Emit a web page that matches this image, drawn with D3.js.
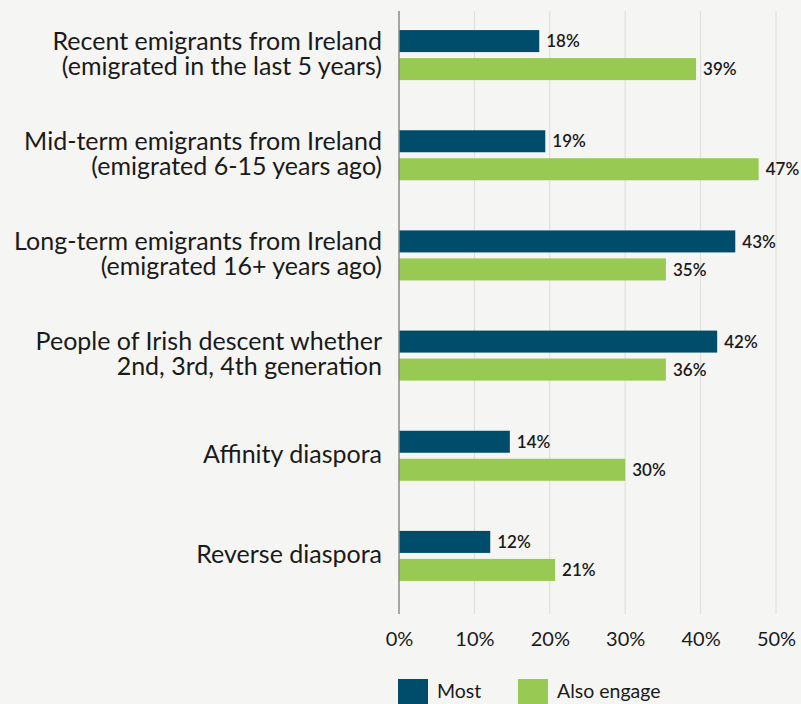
<!DOCTYPE html>
<html>
<head>
<meta charset="utf-8">
<script src="https://cdn.jsdelivr.net/npm/d3@7"></script>
<style>
  body { margin: 0; background: #f5f5f3; }
  svg { display: block; font-family: Lato, "Open Sans", sans-serif; }
</style>
</head>
<body>
<div id="chart"></div>
<script>
// categories, each label split on its own lines
const categories = [
  ["Recent emigrants from Ireland", "(emigrated in the last 5 years)"],
  ["Mid-term emigrants from Ireland", "(emigrated 6-15 years ago)"],
  ["Long-term emigrants from Ireland", "(emigrated 16+ years ago)"],
  ["People of Irish descent whether", "2nd, 3rd, 4th generation"],
  ["Affinity diaspora"],
  ["Reverse diaspora"]
];
const seriesNames = ["Most", "Also engage"];
// bar lengths (%)
const most = [18.6, 19.4, 44.6, 42.2, 14.7, 12.1];
const alsoEngage = [39.4, 47.7, 35.4, 35.4, 30.0, 20.7];
// printed labels
const mostLabels = [18, 19, 43, 42, 14, 12];
const alsoLabels = [39, 47, 35, 36, 30, 21];
const xTicks = [0, 10, 20, 30, 40, 50];

const colors = ["#004d6b", "#97c953"];
const W = 801, H = 704;

const svg = d3.select("#chart")
  .append("svg")
    .attr("width", W)
    .attr("height", H);

svg.append("rect").attr("width", W).attr("height", H).attr("fill", "#f5f5f3");

const x = d3.scaleLinear().domain([0, 50]).range([399, 776]);
const y = d3.scaleBand().domain(d3.range(categories.length)).range([5, 606]);
const inner = d3.scaleBand().domain([0, 1]).range([0, 56]);

// grid lines
svg.append("g")
  .selectAll("line")
  .data(xTicks.slice(1))
  .enter().append("line")
    .attr("x1", d => x(d)).attr("x2", d => x(d))
    .attr("y1", 11).attr("y2", 614)
    .attr("stroke", "#dcdcda")
    .attr("stroke-width", 1);

// x axis labels
const xAxis = svg.append("g")
  .attr("transform", "translate(0,614)")
  .call(d3.axisBottom(x).tickValues(xTicks).tickFormat(d => d + "%").tickSize(0).tickPadding(18));
xAxis.select(".domain").remove();
xAxis.selectAll("text")
  .attr("font-size", 20)
  .attr("font-family", "Lato, sans-serif")
  .attr("fill", "#1a1a1a");

// bars
const groups = svg.append("g")
  .selectAll("g")
  .data(categories)
  .enter().append("g")
    .attr("transform", (d, i) => `translate(0,${y(i) + y.bandwidth() / 2 - 25})`);

const vals = [most, alsoEngage];
const labs = [mostLabels, alsoLabels];
groups.each(function (d, i) {
  const g = d3.select(this);
  vals.forEach((arr, s) => {
    g.append("rect")
      .attr("x", x(0))
      .attr("y", inner(s))
      .attr("width", x(arr[i]) - x(0))
      .attr("height", 22)
      .attr("fill", colors[s]);
    g.append("text")
      .attr("x", x(arr[i]) + 7)
      .attr("y", inner(s) + 11)
      .attr("dy", "0.36em")
      .attr("font-size", 17)
      .attr("font-weight", 600)
      .attr("fill", "#1a1a1a")
      .text(labs[s][i] + "%");
  });

  // category label
  const t = g.append("text")
    .attr("text-anchor", "end")
    .attr("font-size", 25)
    .attr("fill", "#1a1a1a");
  const n = d.length;
  d.forEach((line, k) => {
    t.append("tspan")
      .attr("x", 382)
      .attr("y", 25 + 7 + (k - (n - 1) / 2) * 25)
      .text(line);
  });
});

// axis line
svg.append("line")
  .attr("x1", x(0)).attr("x2", x(0))
  .attr("y1", 11).attr("y2", 614)
  .attr("stroke", "#8a8a8a")
  .attr("stroke-width", 1.5);

// legend
const legend = svg.append("g");
const legX = [398, 518];
seriesNames.forEach((name, s) => {
  legend.append("rect")
    .attr("x", legX[s]).attr("y", 679)
    .attr("width", 30).attr("height", 30)
    .attr("fill", colors[s]);
  legend.append("text")
    .attr("x", legX[s] + 39).attr("y", 698)
    .attr("font-size", 19.5)
    .attr("fill", "#1a1a1a")
    .text(name);
});
</script>
</body>
</html>
